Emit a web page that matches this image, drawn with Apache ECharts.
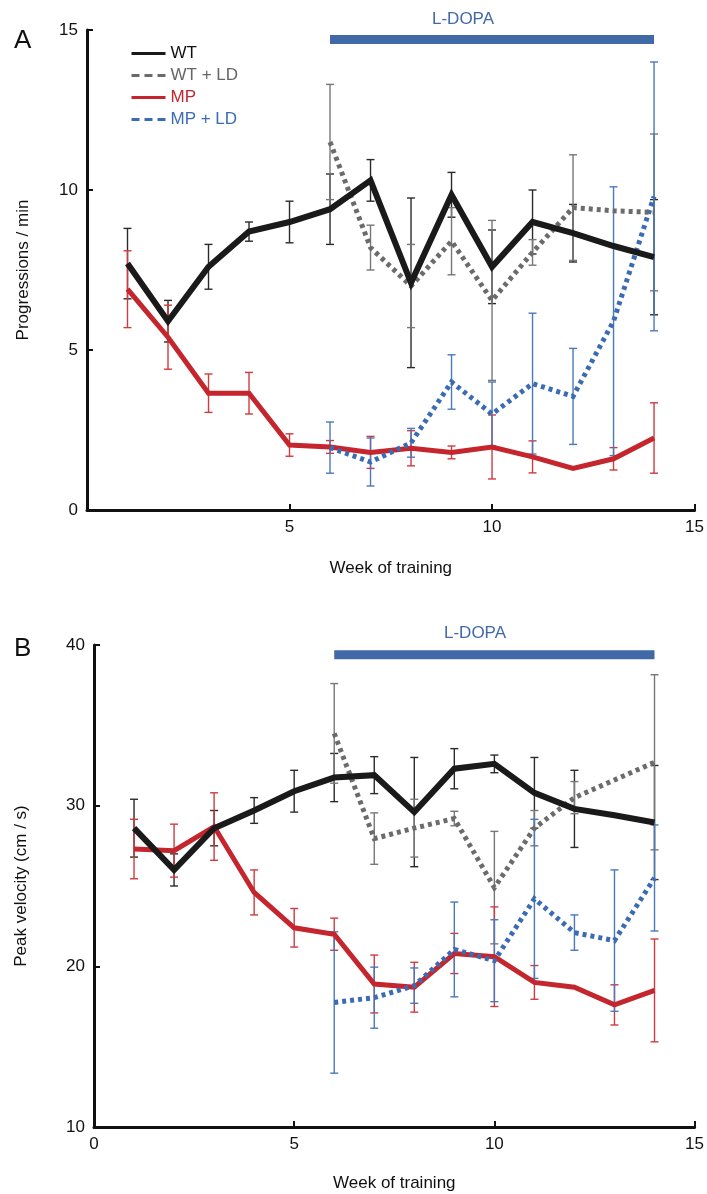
<!DOCTYPE html>
<html>
<head>
<meta charset="utf-8">
<script src="https://cdn.jsdelivr.net/npm/echarts@6/dist/echarts.min.js"></script>
<style>
  html, body { margin: 0; padding: 0; background: #fff; }
  #chart { width: 707px; height: 1194px; }
</style>
</head>
<body>
<div id="chart"></div>
<script>
// weeks of training
const weeks = [1, 2, 3, 4, 5, 6, 7, 8, 9, 10, 11, 12, 13, 14];

// panel A: progressions / min (mean, error)
const wtA      = [7.7, 5.9, 7.6, 8.7, 9.0, 9.4, 10.3, 7.1, 9.85, 7.6, 9.0, 8.65, 8.25, 7.9];
const wtAErr   = [1.1, 0.65, 0.7, 0.3, 0.65, 1.1, 0.65, 2.65, 0.7, 1.15, 1.0, 0.9, null, 1.8];
const wtldA    = [null, null, null, null, null, 11.5, 8.2, 7.0, 8.4, 6.55, 8.05, 9.45, 9.35, 9.3];
const wtldAErr = [null, null, null, null, null, 1.8, 0.7, 1.3, 1.05, 2.5, 0.4, 1.65, null, 2.45];
const mpA      = [6.9, 5.4, 3.65, 3.65, 2.03, 1.97, 1.8, 1.93, 1.8, 1.97, 1.66, 1.3, 1.6, 2.25];
const mpAErr   = [1.2, 1.0, 0.6, 0.65, 0.35, 0.2, 0.5, 0.55, 0.2, 1.0, 0.5, null, 0.35, 1.1];
const mpldA    = [null, null, null, null, null, 1.95, 1.5, 2.1, 4.0, 3.0, 3.95, 3.55, 5.9, 9.8];
const mpldAErr = [null, null, null, null, null, 0.8, 0.75, 0.45, 0.85, 1.0, 2.2, 1.5, 4.2, 4.2];

// panel B: peak velocity (cm / s)
const wtB      = [28.6, 26.0, 28.6, 29.7, 30.9, 31.75, 31.9, 29.6, 32.3, 32.6, 30.8, 29.8, 29.4, 28.95];
const wtBErr   = [1.8, 1.0, 1.1, 0.8, 1.3, 1.5, 1.15, 3.4, 1.25, 0.55, 2.2, 2.4, null, 3.55];
const wtldB    = [null, null, null, null, null, 34.5, 27.95, 28.6, 29.2, 24.9, 28.6, 30.5, 31.6, 32.7];
const wtldBErr = [null, null, null, null, null, 3.1, 1.6, 1.8, 0.45, 3.5, 1.1, 1.0, null, 5.45];
const mpB      = [27.3, 27.2, 28.7, 24.6, 22.4, 22.0, 18.9, 18.7, 20.8, 20.6, 19.0, 18.7, 17.6, 18.5];
const mpBErr   = [1.85, 1.65, 2.1, 1.4, 1.2, 1.0, 1.8, 1.55, 1.25, 3.1, 1.05, null, 1.25, 3.2];
const mpldB    = [null, null, null, null, null, 17.75, 18.05, 18.8, 21.05, 20.35, 24.2, 22.1, 21.6, 25.5];
const mpldBErr = [null, null, null, null, null, 4.4, 1.9, 1.1, 2.95, 2.55, 4.95, 1.1, 4.4, 3.3];

// L-DOPA treatment period
const lDopaWeeks = [6, 14];
const lDopaLevel = [14.7, 39.4];

const FONT = '"Liberation Sans", Arial, sans-serif';
const BLACK = '#1a1a1a', GREY = '#6b6b6b', RED = '#c5252d', BLUE = '#3b6cb3';

function pts(vals) {
    let out = [];
    vals.forEach(function (v, i) { if (v !== null) out.push([weeks[i], v]); });
    return out;
}
function errPts(vals, errs) {
    let out = [];
    vals.forEach(function (v, i) {
        if (v !== null && errs[i] !== null) out.push([weeks[i], v - errs[i], v + errs[i]]);
    });
    return out;
}
function errRender(color) {
    return function (params, api) {
        let x = api.value(0);
        let top = api.coord([x, api.value(2)]);
        let bot = api.coord([x, api.value(1)]);
        let w = 4;
        let style = { stroke: color, lineWidth: 1.4 };
        return {
            type: 'group',
            children: [
                { type: 'line', shape: { x1: top[0], y1: top[1], x2: bot[0], y2: bot[1] }, style: style },
                { type: 'line', shape: { x1: top[0] - w, y1: top[1], x2: top[0] + w, y2: top[1] }, style: style },
                { type: 'line', shape: { x1: bot[0] - w, y1: bot[1], x2: bot[0] + w, y2: bot[1] }, style: style }
            ]
        };
    };
}
function errSeries(idx, vals, errs, color) {
    return {
        type: 'custom', xAxisIndex: idx, yAxisIndex: idx, z: 1,
        renderItem: errRender(color),
        encode: { x: 0, y: [1, 2] },
        data: errPts(vals, errs),
        silent: true
    };
}
function lineSeries(idx, name, vals, color, width, dotted) {
    return {
        name: name, type: 'line', xAxisIndex: idx, yAxisIndex: idx, z: 3,
        symbol: 'none', data: pts(vals),
        lineStyle: { color: color, width: width, type: dotted ? [4, 4] : 'solid', cap: 'butt', join: 'miter' },
        itemStyle: { color: color }
    };
}
function barSeries(idx) {
    return {
        type: 'line', xAxisIndex: idx, yAxisIndex: idx, z: 2, symbol: 'none', silent: true,
        data: lDopaWeeks.map(function (w) { return [w, lDopaLevel[idx]]; }),
        lineStyle: { color: '#4169a8', width: 9, cap: 'butt' }
    };
}
function xAxis(idx, hideZero, gap) {
    return {
        type: 'value', gridIndex: idx, min: 0, max: 15, interval: 5,
        name: 'Week of training', nameLocation: 'middle', nameGap: gap,
        nameTextStyle: { fontFamily: FONT, fontSize: 17, color: '#111' },
        axisLine: { lineStyle: { color: '#111', width: 3 } },
        axisTick: { inside: true, length: 6, lineStyle: { width: 2, color: '#111' } },
        axisLabel: {
            fontFamily: FONT, fontSize: 17, color: '#111', margin: 9,
            formatter: function (v) { return (hideZero && v === 0) ? '' : String(v); }
        },
        splitLine: { show: false }
    };
}
function yAxis(idx, min, max, interval, name, gap) {
    return {
        type: 'value', gridIndex: idx, min: min, max: max, interval: interval,
        name: name, nameLocation: 'middle', nameGap: gap,
        nameTextStyle: { fontFamily: FONT, fontSize: 17, color: '#111' },
        axisLine: { show: true, lineStyle: { color: '#111', width: 3 } },
        axisTick: { show: true, inside: true, length: 6, lineStyle: { width: 2, color: '#111' } },
        axisLabel: { fontFamily: FONT, fontSize: 17, color: '#111', margin: 9 },
        splitLine: { show: false }
    };
}

let chart = echarts.init(document.getElementById('chart'), null, { renderer: 'canvas' });

let option = {
    backgroundColor: '#fff',
    animation: false,
    grid: [
        { left: 87, top: 30, width: 609, height: 480 },
        { left: 94, top: 645, width: 609, height: 482 }
    ],
    xAxis: [xAxis(0, true, 50), xAxis(1, false, 48)],
    yAxis: [
        yAxis(0, 0, 15, 5, 'Progressions / min', 55),
        yAxis(1, 10, 40, 10, 'Peak velocity (cm / s)', 64)
    ],
    legend: {
        left: 125, top: 40, orient: 'vertical', itemGap: 5,
        itemWidth: 34, itemHeight: 14,
        itemStyle: { opacity: 0 },
        textStyle: { fontFamily: FONT, fontSize: 17 },
        data: [
            { name: 'WT', textStyle: { color: '#111' }, lineStyle: { width: 3 } },
            { name: 'WT + LD', textStyle: { color: '#666' }, lineStyle: { width: 3, type: [8, 5] } },
            { name: 'MP', textStyle: { color: RED }, lineStyle: { width: 3 } },
            { name: 'MP + LD', textStyle: { color: BLUE }, lineStyle: { width: 3, type: [8, 5] } }
        ]
    },
    graphic: [
        { type: 'text', left: 14, top: 28, style: { text: 'A', font: '26px ' + FONT, fill: '#111' } },
        { type: 'text', left: 14, top: 636, style: { text: 'B', font: '26px ' + FONT, fill: '#111' } },
        { type: 'text', left: 432, top: 11, style: { text: 'L-DOPA', font: '17px ' + FONT, fill: '#4169a8' } },
        { type: 'text', left: 444, top: 625, style: { text: 'L-DOPA', font: '17px ' + FONT, fill: '#4169a8' } }
    ],
    series: [
        errSeries(0, wtA, wtAErr, '#2a2a2a'),
        errSeries(0, wtldA, wtldAErr, '#777'),
        errSeries(0, mpA, mpAErr, '#cf3a40'),
        errSeries(0, mpldA, mpldAErr, '#4a78bb'),
        barSeries(0),
        lineSeries(0, 'MP', mpA, RED, 5, false),
        lineSeries(0, 'MP + LD', mpldA, BLUE, 5, true),
        lineSeries(0, 'WT + LD', wtldA, GREY, 5, true),
        lineSeries(0, 'WT', wtA, BLACK, 6, false),

        errSeries(1, wtB, wtBErr, '#2a2a2a'),
        errSeries(1, wtldB, wtldBErr, '#777'),
        errSeries(1, mpB, mpBErr, '#cf3a40'),
        errSeries(1, mpldB, mpldBErr, '#4a78bb'),
        barSeries(1),
        lineSeries(1, 'MP', mpB, RED, 5, false),
        lineSeries(1, 'MP + LD', mpldB, BLUE, 5, true),
        lineSeries(1, 'WT + LD', wtldB, GREY, 5, true),
        lineSeries(1, 'WT', wtB, BLACK, 6, false)
    ]
};
chart.setOption(option);
</script>
</body>
</html>
